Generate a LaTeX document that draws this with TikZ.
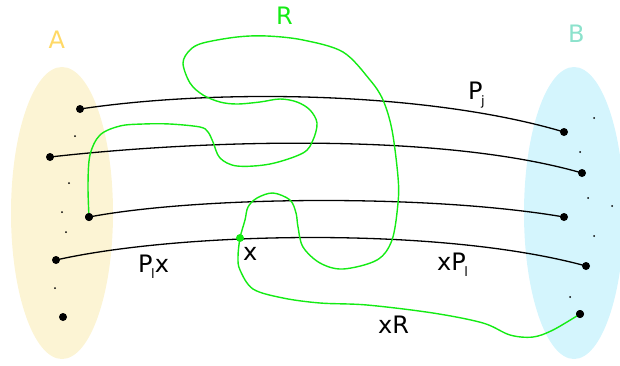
\documentclass[tikz,border=0pt]{standalone}
\usepackage{fontspec}
\setmainfont{DejaVu Sans}
\definecolor{setA}{RGB}{252,244,212}
\definecolor{setB}{RGB}{212,245,253}
\definecolor{labA}{RGB}{255,217,102}
\definecolor{labB}{RGB}{140,226,204}
\definecolor{rgreen}{RGB}{20,235,20}
\newcommand{\mysub}[1]{\kern-1.5pt\raisebox{-6pt}{\fontsize{13}{13}\selectfont #1}}
\tikzset{
  bigdot/.style={circle,fill=black,inner sep=0pt,minimum size=8pt},
  tinydot/.style={circle,fill=black,inner sep=0pt,minimum size=2pt},
  pathline/.style={line width=1.3pt,black},
  greenline/.style={line width=1.4pt,rgreen},
  lab/.style={inner sep=0pt,anchor=base west,font=\fontsize{24}{24}\selectfont},
}
\begin{document}
\begin{tikzpicture}[x=1pt,y=-1pt]
\useasboundingbox (0,0) rectangle (620,365);
% sets
\fill[setA] (62,213) ellipse [x radius=51, y radius=146];
\fill[setB] (574,213) ellipse [x radius=50, y radius=146];
\node[lab,text=labA] (labA) at (48.5,48) {A};
\node[lab,text=labB] (labB) at (568,42) {B};
\node[lab,text=rgreen] (labR) at (276,24) {R};
% dots in A
\node[bigdot] (a1) at (80,109) {};
\node[bigdot] (a2) at (50,157) {};
\node[bigdot] (a3) at (89,217) {};
\node[bigdot] (a4) at (56,260) {};
\node[bigdot] (a5) at (63,317) {};
\node[tinydot] (sa1) at (75,136) {};
\node[tinydot] (sa2) at (69,183) {};
\node[tinydot] (sa3) at (62,212) {};
\node[tinydot] (sa4) at (66,232) {};
\node[tinydot] (sa5) at (55,288) {};
% dots in B
\node[bigdot] (b1) at (564,132) {};
\node[bigdot] (b2) at (582,173) {};
\node[bigdot] (b3) at (564,217) {};
\node[bigdot] (b4) at (586,266) {};
\node[bigdot] (b5) at (580,314) {};
\node[tinydot] (sb1) at (594,118) {};
\node[tinydot] (sb2) at (580,152) {};
\node[tinydot] (sb3) at (588,198) {};
\node[tinydot] (sb4) at (612,206) {};
\node[tinydot] (sb5) at (594,236) {};
\node[tinydot] (sb6) at (570,297) {};
% paths
\draw[pathline] (a1.center) .. controls (220,88) and (430,92) .. (b1.center);
\draw[pathline] (a2.center) .. controls (200,140) and (440,132) .. (b2.center);
\draw[pathline] (a3.center) .. controls (200,196) and (430,194) .. (b3.center);
\draw[pathline] (a4.center) .. controls (180,232) and (440,226) .. (b4.center);
\coordinate (x) at (240,238);
% green path R
\draw[greenline] plot[smooth,tension=0.55] coordinates {
 (a3.center) (88,185) (90,155) (100,135) (120,126) (143,124) (170,124)
 (200,127) (208,132) (213,142) (220,158) (237,166) (270,164) (303,153)
 (313,140) (317,123) (310,110) (297,102) (280,99) (260,102) (237,104)
 (220,102) (203,95) (190,83) (183,63) (190,50) (203,43) (237,37) (267,36)
 (303,40) (343,52) (370,80) (383,100) (392,130) (398,177) (398,203)
 (392,240) (377,260) (343,269) (320,263) (303,247) (298,227) (296,213)
 (290,200) (273,193) (257,198) (248,207) (245,220) (x)
 (238,257) (240,270) (253,289) (283,298) (320,303) (367,305) (433,313)
 (483,323) (510,335) (533,337) (553,330) (b5.center)};
\fill[rgreen] (x) circle[radius=4];
\node[bigdot] at (a3) {};
\node[bigdot] at (b5) {};
% labels
\node[lab] (lPj) at (468,99) {P\mysub{j}};
\node[lab] (lPx) at (138,272) {P\mysub{l}x};
\node[lab] (lxP) at (437,270) {xP\mysub{l}};
\node[lab] (lx) at (243,260) {x};
\node[lab] (lxR) at (378,333) {xR};
\end{tikzpicture}
\end{document}
